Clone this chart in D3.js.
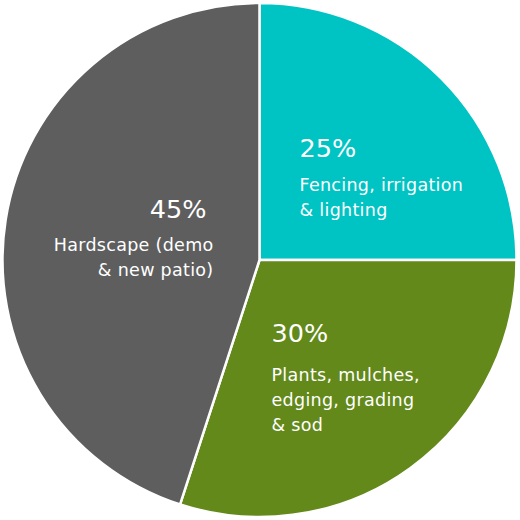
<!DOCTYPE html>
<html>
<head>
<meta charset="utf-8">
<script src="https://cdn.jsdelivr.net/npm/d3@7"></script>
<style>
  html, body { margin: 0; padding: 0; background: #fff; }
  text { font-family: "DejaVu Sans", sans-serif; fill: #fff; }
</style>
</head>
<body>
<div id="chart"></div>
<script>
// Slice data, clockwise from 12 o'clock
var shares  = [25, 30, 45];
var pcts    = ["25%", "30%", "45%"];
var labels  = [
    ["Fencing, irrigation", "& lighting"],
    ["Plants, mulches,", "edging, grading", "& sod"],
    ["Hardscape (demo", "& new patio)"]
];
var colors  = ["#00c4c4", "#63891b", "#5e5e5e"];

var W = 520, H = 520;
var cx = 259.5, cy = 260, R = 257;

var svg = d3.select('#chart')
    .append("svg")
    .attr("width", W)
    .attr("height", H);

var pie = d3.pie().sort(null).value(function(d){ return d; });
var arc = d3.arc().innerRadius(0).outerRadius(R);
var arcs = pie(shares);

var g = svg.append("g").attr("transform", "translate(" + cx + "," + cy + ")");

g.selectAll("path")
    .data(arcs)
    .enter()
    .append("path")
    .attr("d", arc)
    .style("fill", function(d, i){ return colors[i]; })
    .style("stroke", "#fff")
    .style("stroke-width", 2.5);

// Label placement per slice (offsets from the centre)
var place = [
    { x: 40,   y: -103, anchor: "start", pctX: 40 },
    { x: 12,   y: 82,   anchor: "start", pctX: 12 },
    { x: -46,  y: -42,  anchor: "end",   pctX: -53 }
];
var bodyGap = [34, 39, 33];

arcs.forEach(function(a, i){
    var p = place[i];
    var t = g.append("g");
    t.append("text")
        .attr("x", p.pctX)
        .attr("y", p.y)
        .attr("text-anchor", p.anchor)
        .style("font-size", "25.5px")
        .text(pcts[i]);
    labels[i].forEach(function(line, j){
        t.append("text")
            .attr("x", p.x)
            .attr("y", p.y + bodyGap[i] + j * 25)
            .attr("text-anchor", p.anchor)
            .style("font-size", "17.5px")
            .style("letter-spacing", "0.3px")
            .text(line);
    });
});
</script>
</body>
</html>
